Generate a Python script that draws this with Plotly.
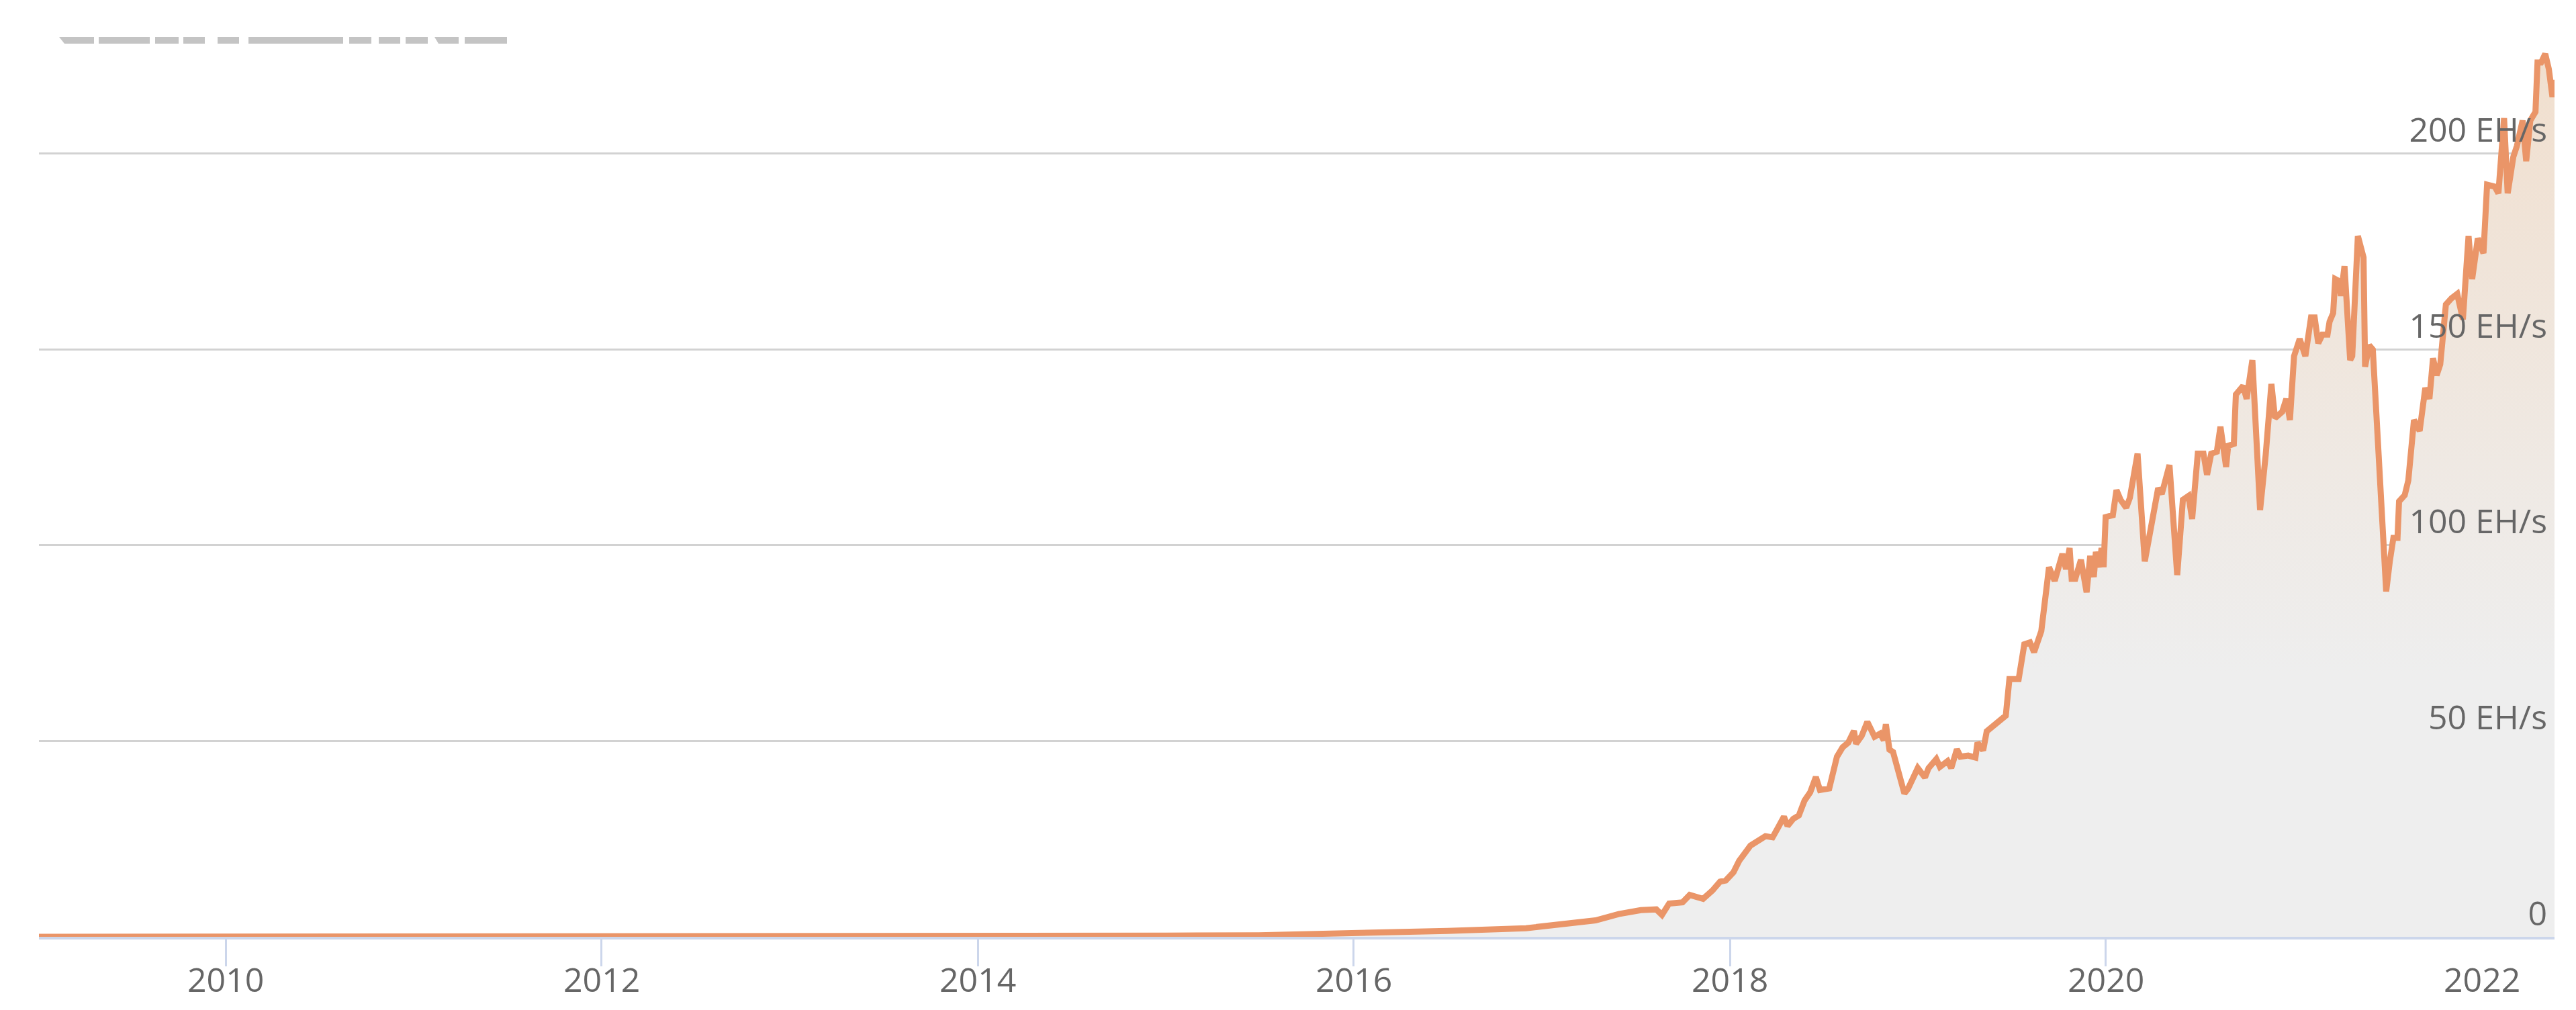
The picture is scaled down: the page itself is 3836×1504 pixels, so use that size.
import plotly.graph_objects as go

# ---- data ----
dates = [
    "2009-01-03", "2010-07-01", "2011-06-01", "2012-06-01", "2013-06-01",
    "2014-01-01", "2014-07-01", "2015-01-01", "2015-07-01", "2016-01-01",
    "2016-07-01", "2016-12-01", "2017-01-15", "2017-04-15",
    "2017-05-30", "2017-07-12", "2017-08-11", "2017-08-22", "2017-09-05",
    "2017-10-01", "2017-10-15", "2017-10-30", "2017-11-10", "2017-11-28",
    "2017-12-13", "2017-12-24", "2018-01-08", "2018-01-19", "2018-02-10",
    "2018-03-11", "2018-03-25", "2018-04-05", "2018-04-16", "2018-04-23",
    "2018-05-04", "2018-05-15", "2018-05-26", "2018-06-06", "2018-06-17",
    "2018-06-25", "2018-07-13", "2018-07-28", "2018-08-08", "2018-08-19",
    "2018-08-30", "2018-09-03", "2018-09-14", "2018-09-25", "2018-10-09",
    "2018-10-20", "2018-10-27", "2018-10-31", "2018-11-07", "2018-11-14",
    "2018-12-06", "2018-12-13", "2019-01-01", "2019-01-15", "2019-01-22",
    "2019-02-06", "2019-02-13", "2019-02-28", "2019-03-07", "2019-03-18",
    "2019-03-25", "2019-04-09", "2019-04-23", "2019-04-27", "2019-05-08",
    "2019-05-15", "2019-06-10", "2019-06-21", "2019-06-28", "2019-07-16",
    "2019-07-27", "2019-08-07", "2019-08-15", "2019-08-29", "2019-09-13",
    "2019-09-24", "2019-10-09", "2019-10-16", "2019-10-23", "2019-10-27",
    "2019-11-03", "2019-11-14", "2019-11-25", "2019-12-02", "2019-12-09",
    "2019-12-13", "2019-12-20", "2019-12-24", "2019-12-28", "2020-01-01",
    "2020-01-15", "2020-01-22", "2020-01-30", "2020-02-10", "2020-02-17",
    "2020-03-03", "2020-03-17", "2020-04-01", "2020-04-12", "2020-04-19",
    "2020-04-27", "2020-05-04", "2020-05-19", "2020-05-30", "2020-06-10",
    "2020-06-17", "2020-06-28", "2020-07-09", "2020-07-16", "2020-07-24",
    "2020-08-04", "2020-08-11", "2020-08-22", "2020-08-26", "2020-09-06",
    "2020-09-10", "2020-09-24", "2020-10-01", "2020-10-12", "2020-10-27",
    "2020-11-07", "2020-11-18", "2020-11-25", "2020-12-09", "2020-12-17",
    "2020-12-24", "2021-01-01", "2021-01-12", "2021-01-23", "2021-02-03",
    "2021-02-10", "2021-02-17", "2021-02-25", "2021-03-07", "2021-03-11",
    "2021-03-18", "2021-03-22", "2021-03-29", "2021-04-02", "2021-04-09",
    "2021-04-20", "2021-04-24", "2021-05-05", "2021-05-16", "2021-05-19",
    "2021-05-27", "2021-06-03", "2021-06-14", "2021-06-25", "2021-06-29",
    "2021-07-06", "2021-07-13", "2021-07-21", "2021-07-24", "2021-08-04",
    "2021-08-11", "2021-08-22", "2021-09-02", "2021-09-13", "2021-09-21",
    "2021-09-28", "2021-10-05", "2021-10-12", "2021-10-23", "2021-11-03",
    "2021-11-14", "2021-11-25", "2021-12-06", "2021-12-13", "2021-12-24",
    "2022-01-04", "2022-01-11", "2022-01-26", "2022-02-02", "2022-02-13",
    "2022-02-20", "2022-03-03", "2022-03-10", "2022-03-21", "2022-03-28",
    "2022-04-05", "2022-04-15", "2022-04-19", "2022-04-26", "2022-05-04",
    "2022-05-11", "2022-05-18", "2022-05-22",
]
hashrate = [
    0.0, 0.0, 0.00001, 0.00002, 0.0001,
    0.01, 0.1, 0.3, 0.4, 0.8,
    1.5, 2.2, 2.8, 4.2,
    5.8, 6.8, 7.0, 5.6, 8.5,
    8.8, 10.7, 10.3, 9.7, 11.8,
    14.1, 14.4, 16.5, 19.4, 23.3,
    25.7, 25.4, 28.0, 30.7, 28.3,
    30.1, 31.0, 34.8, 36.9, 40.8,
    37.5, 37.9, 46.0, 48.4, 49.6,
    52.6, 49.3, 51.3, 54.9, 51.1,
    51.9, 50.2, 54.3, 47.8, 47.2,
    36.6, 37.8, 43.1, 40.7, 43.1,
    45.4, 43.4, 44.9, 43.1, 47.9,
    46.0, 46.3, 45.8, 49.6, 47.6,
    52.5, 55.0, 56.5, 65.8, 65.8,
    74.7, 75.2, 72.7, 78.1, 94.4,
    90.9, 97.8, 93.9, 99.3, 91.4,
    91.4, 96.3, 88.0, 97.3, 91.9,
    98.3, 94.4, 99.3, 94.4, 107.2,
    107.7, 114.1, 111.6, 109.6, 112.1,
    123.4, 95.9, 105.7, 114.6, 113.1,
    117.5, 120.5, 92.4, 111.6, 112.6,
    106.7, 123.4, 123.4, 118.0, 123.4,
    123.9, 130.3, 120.0, 125.4, 125.9,
    138.5, 140.7, 137.4, 147.3, 109.0,
    123.2, 141.2, 132.5, 134.1, 137.4,
    132.0, 148.3, 152.7, 148.3, 158.2,
    158.2, 151.6, 153.8, 153.8, 157.1,
    159.3, 168.0, 167.5, 163.7, 171.3,
    147.3, 148.3, 179.0, 173.5, 145.6,
    151.1, 150.0, 126.5, 98.0, 88.2,
    95.9, 101.9, 101.9, 111.2, 112.8,
    116.6, 132.0, 129.2, 140.2, 137.4,
    147.8, 143.4, 146.2, 161.5, 163.1,
    164.2, 157.7, 179.0, 168.0, 178.4,
    174.6, 192.1, 191.6, 189.9, 209.1,
    189.9, 199.2, 202.0, 208.5, 198.1,
    208.5, 210.7, 223.3, 223.3, 225.5,
    221.6, 214.5, 218.9,
]
y_tick_values = [0, 50, 100, 150, 200]
y_tick_labels = ["0", "50 EH/s", "100 EH/s", "150 EH/s", "200 EH/s"]
x_tick_values = ["2010-01-01", "2012-01-01", "2014-01-01", "2016-01-01",
                 "2018-01-01", "2020-01-01", "2022-01-01"]
x_tick_labels = ["2010", "2012", "2014", "2016", "2018", "2020", "2022"]

# ---- layout geometry ----
W, H = 3836, 1504
ML, MR, MT, MB = 50, 40, 0, 117
PW, PH = W - ML - MR, H - MT - MB

FONT = "Open Sans"
TXT = "#666666"

fig = go.Figure()
fig.add_trace(go.Scatter(
    x=dates, y=hashrate, mode="lines",
    line=dict(color="#ea9568", width=9),
    fill="tozeroy",
    fillgradient=dict(type="vertical",
                      colorscale=[[0, "#eeeeee"], [0.3, "#eeeeee"], [1, "#f1dfce"]]),
    hoverinfo="skip", showlegend=False,
))


# clipped header strokes at top-left (decorative remnants), pixel -> paper
def px(x):
    return (x - ML) / PW


def py(y):
    return (H - MB - y) / PH


TOP, BOT = 47, 57
# (top-left x, bottom-left x, right x)
segs = [(80, 88, 132), (139, 139, 215), (223, 223, 258), (265, 265, 297),
        (316, 316, 348), (362, 362, 503), (512, 512, 545), (556, 556, 588),
        (596, 596, 629), (639, 645, 675), (684, 684, 747)]
shapes = []
for xt, xb, xr in segs:
    path = (f"M {px(xt)} {py(TOP)} L {px(xr)} {py(TOP)} "
            f"L {px(xr)} {py(BOT)} L {px(xb)} {py(BOT)} Z")
    shapes.append(dict(type="path", xref="paper", yref="paper", path=path,
                       fillcolor="#c4c4c4", line=dict(width=0), layer="above"))

# x tick labels as annotations (placed just under the long tick marks)
annotations = []
for xv, lab in zip(x_tick_values, x_tick_labels):
    annotations.append(dict(x=xv, y=0, xref="x", yref="paper", text=lab,
                            showarrow=False, xanchor="center", yanchor="top",
                            yshift=-27, font=dict(family=FONT, size=50, color=TXT)))

fig.update_layout(
    width=W, height=H,
    margin=dict(l=ML, r=MR, t=MT, b=MB, pad=0),
    paper_bgcolor="white", plot_bgcolor="white",
    font=dict(family=FONT, size=50, color=TXT),
    showlegend=False,
    shapes=shapes,
    annotations=annotations,
    xaxis=dict(
        type="date", range=["2009-01-03", "2022-05-22"],
        tickvals=x_tick_values, ticktext=x_tick_labels,
        showticklabels=False,
        ticks="outside", ticklen=40, tickwidth=3, tickcolor="#ccd6eb",
        showline=True, linecolor="#ccd6eb", linewidth=4,
        showgrid=False, zeroline=False,
    ),
    yaxis=dict(
        range=[0, 237.9], side="right",
        tickvals=y_tick_values, ticktext=y_tick_labels,
        ticklabelposition="inside top", ticklabelstandoff=8,
        showgrid=True, gridcolor="#d2d2d2", gridwidth=3,
        zeroline=False, showline=False, ticks="",
        tickfont=dict(family=FONT, size=50, color=TXT),
    ),
)

fig.write_html("out.html")
